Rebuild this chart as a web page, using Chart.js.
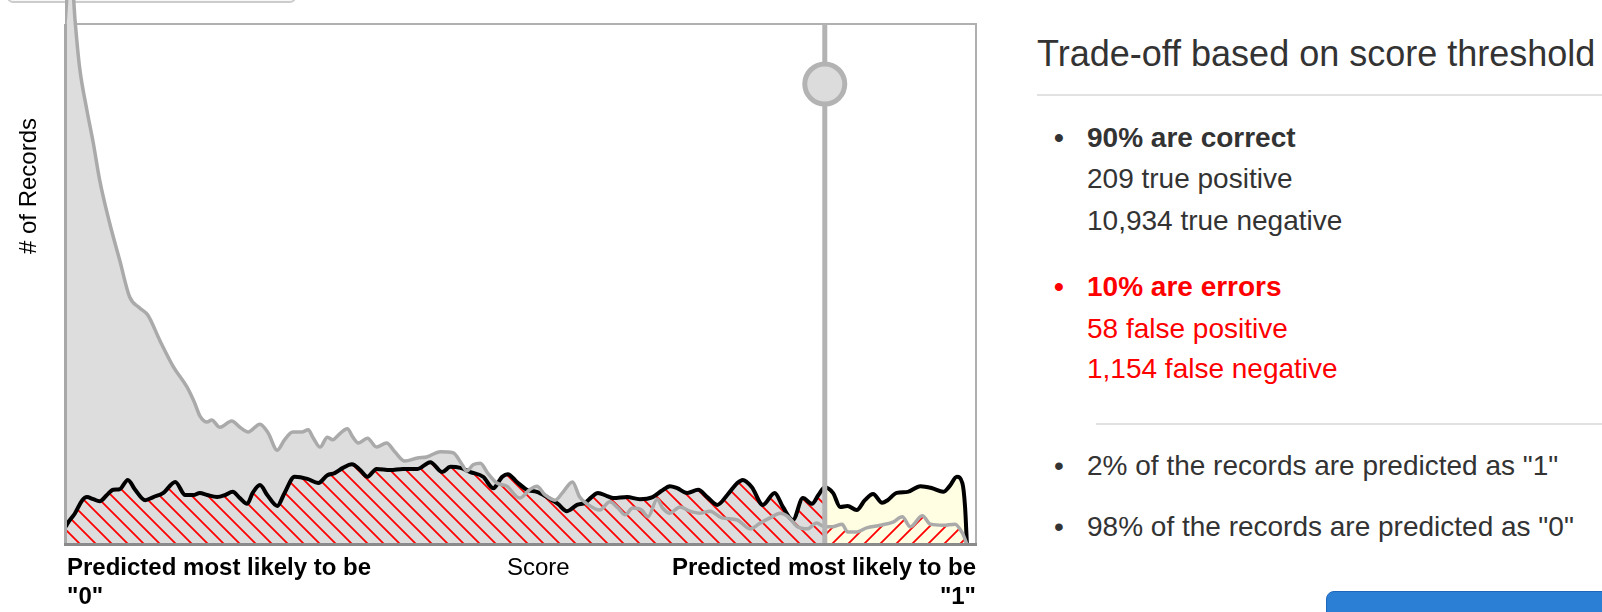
<!DOCTYPE html>
<html>
<head>
<meta charset="utf-8">
<script src="https://cdn.jsdelivr.net/npm/chart.js@4.4.1/dist/chart.umd.min.js"></script>
<style>
  html, body { margin: 0; padding: 0; background: #fff; }
  body { width: 1602px; height: 612px; position: relative; overflow: hidden; font-family: "Liberation Sans", Arial, sans-serif; }
  #topbox { position: absolute; left: 7px; top: -30px; width: 285px; height: 29px; border: 2px solid #ccc; border-radius: 6px; background: #f8f8f8; }
  #c { position: absolute; left: 0; top: 0; }
  .lbl { position: absolute; font-size: 24px; line-height: 29px; color: #000; white-space: nowrap; }
  .b { font-weight: bold; }
  #ytitle { position: absolute; left: -72px; top: 174px; width: 200px; height: 24px; line-height: 24px; font-size: 24px; text-align: center; transform: rotate(-90deg); color: #000; }
  .ln { position: absolute; left: 1087px; font-size: 28px; line-height: 40px; color: #333; white-space: nowrap; }
  .ln .bul { position: absolute; left: -33px; }
  .red { color: #ff0000; }
  #title { position: absolute; left: 1037px; top: 34px; font-size: 36px; line-height: 40px; color: #333; white-space: nowrap; }
  .rule { position: absolute; height: 2px; background: #e2e2e2; right: 0; }
  #btn { position: absolute; left: 1326px; top: 591px; width: 320px; height: 60px; background: #2b7fd5; border: 1px solid #1e67bb; border-radius: 8px; }
</style>
</head>
<body>
<div id="topbox"></div>
<canvas id="c" width="1000" height="612"></canvas>
<div id="ytitle"># of Records</div>
<div class="lbl b" style="left:67px;top:552px;">Predicted most likely to be<br>"0"</div>
<div class="lbl" style="left:507px;top:552px;">Score</div>
<div class="lbl b" style="left:660px;width:316px;text-align:right;top:552px;">Predicted most likely to be<br>"1"</div>

<div id="title">Trade-off based on score threshold</div>
<div class="rule" style="left:1037px;top:94px;"></div>
<div class="ln b" style="top:118px;"><span class="bul">•</span>90% are correct</div>
<div class="ln" style="top:159px;">209 true positive</div>
<div class="ln" style="top:201px;">10,934 true negative</div>
<div class="ln b red" style="top:267px;"><span class="bul">•</span>10% are errors</div>
<div class="ln red" style="top:309px;">58 false positive</div>
<div class="ln red" style="top:349px;">1,154 false negative</div>
<div class="rule" style="left:1096px;top:423px;"></div>
<div class="ln" style="top:446px;"><span class="bul">•</span>2% of the records are predicted as "1"</div>
<div class="ln" style="top:507px;"><span class="bul">•</span>98% of the records are predicted as "0"</div>
<div id="btn"></div>

<script>
// score distribution (score 0..1, height in % of frame)
const grayScores = [0, 0.006, 0.011, 0.016, 0.024, 0.031, 0.038, 0.049, 0.060, 0.071,
  0.082, 0.091, 0.104, 0.119, 0.134, 0.142, 0.148, 0.156, 0.161, 0.170,
  0.183, 0.192, 0.201, 0.214, 0.223, 0.233, 0.241, 0.250, 0.260, 0.267,
  0.272, 0.280, 0.288, 0.294, 0.300, 0.310, 0.316, 0.322, 0.332, 0.342,
  0.353, 0.362, 0.373, 0.387, 0.397, 0.412, 0.426, 0.436, 0.441, 0.448,
  0.456, 0.464, 0.474, 0.485, 0.499, 0.510, 0.518, 0.527, 0.538, 0.546,
  0.557, 0.565, 0.573, 0.587, 0.598, 0.607, 0.615, 0.623, 0.633, 0.640,
  0.650, 0.656, 0.664, 0.675, 0.686, 0.697, 0.708, 0.721, 0.738, 0.752,
  0.763, 0.774, 0.785, 0.794, 0.804, 0.815, 0.825, 0.834, 0.843, 0.853,
  0.859, 0.869, 0.880, 0.895, 0.909, 0.919, 0.928, 0.941, 0.950, 0.964,
  0.977, 0.985, 0.990];
const grayCounts = [100.0, 112.3, 100.8, 91.7, 83.5, 77.2, 70.1, 61.8, 54.7, 47.6,
  45.5, 44.1, 39.3, 34.2, 30.3, 27.4, 24.8, 23.6, 24.0, 22.6,
  23.8, 22.6, 21.7, 23.2, 21.5, 18.2, 20.2, 21.7, 21.7, 22.1,
  20.7, 18.8, 20.7, 20.2, 21.1, 22.3, 20.7, 19.6, 20.5, 18.8,
  19.6, 17.9, 16.1, 16.7, 16.9, 17.9, 17.7, 15.4, 14.2, 15.4,
  15.7, 13.8, 11.9, 11.3, 9.0, 10.6, 11.3, 9.6, 8.6, 10.0,
  12.1, 9.2, 7.9, 6.7, 8.3, 7.1, 5.8, 7.1, 6.7, 5.4,
  8.8, 7.1, 6.1, 7.3, 6.5, 6.1, 6.5, 5.2, 4.8, 3.1,
  4.2, 5.2, 6.1, 5.4, 3.5, 3.1, 4.2, 3.5, 3.5, 4.0,
  2.5, 2.5, 3.3, 3.8, 4.4, 5.4, 3.5, 5.6, 4.0, 3.8,
  4.0, 2.3, 0.2];

const blackScores = [0.001, 0.003, 0.011, 0.019, 0.024, 0.031, 0.038, 0.046, 0.053, 0.060,
  0.069, 0.077, 0.088, 0.097, 0.108, 0.121, 0.132, 0.141, 0.148, 0.156,
  0.167, 0.176, 0.184, 0.192, 0.200, 0.206, 0.214, 0.222, 0.233, 0.241,
  0.252, 0.266, 0.278, 0.288, 0.296, 0.305, 0.315, 0.324, 0.332, 0.342,
  0.357, 0.371, 0.387, 0.401, 0.414, 0.423, 0.434, 0.445, 0.459, 0.470,
  0.480, 0.486, 0.496, 0.507, 0.518, 0.529, 0.541, 0.551, 0.562, 0.571,
  0.578, 0.585, 0.595, 0.602, 0.617, 0.631, 0.645, 0.655, 0.664, 0.672,
  0.683, 0.695, 0.705, 0.716, 0.727, 0.738, 0.744, 0.754, 0.766, 0.779,
  0.788, 0.799, 0.810, 0.820, 0.827, 0.834, 0.843, 0.851, 0.859, 0.869,
  0.878, 0.887, 0.897, 0.903, 0.913, 0.925, 0.939, 0.952, 0.964, 0.971,
  0.979, 0.985, 0.988, 0.990];
const blackCounts = [3.6, 4.2, 6.1, 8.6, 9.2, 8.8, 8.4, 9.6, 10.6, 10.7,
  12.5, 10.6, 8.6, 9.2, 10.0, 12.1, 9.6, 9.6, 10.0, 9.6,
  9.2, 9.6, 10.2, 9.0, 7.9, 10.0, 11.5, 9.6, 7.5, 10.0,
  13.1, 12.7, 11.9, 13.4, 13.8, 14.8, 15.5, 14.4, 13.1, 14.6,
  14.4, 14.6, 14.6, 15.9, 14.0, 15.0, 14.8, 14.0, 13.1, 10.9,
  13.1, 13.6, 12.1, 10.6, 10.2, 9.2, 7.9, 6.5, 7.7, 8.1,
  9.2, 10.0, 9.4, 9.0, 9.2, 8.8, 9.2, 10.4, 11.3, 10.9,
  10.0, 10.6, 9.2, 7.7, 9.6, 11.9, 12.5, 11.1, 7.7, 10.0,
  7.3, 4.8, 9.0, 7.9, 9.6, 11.1, 10.0, 7.3, 7.5, 6.7,
  8.6, 9.8, 8.1, 8.6, 10.0, 10.2, 11.3, 10.9, 10.2, 11.3,
  13.1, 11.9, 7.3, 0.2];

const threshold = 0.834;
const frameTop = 100;

const canvas = document.getElementById('c');
const ctx = canvas.getContext('2d');

// red diagonal hatching
function makeHatch(down) {
  const s = 16;
  const tile = document.createElement('canvas');
  tile.width = s; tile.height = s;
  const g = tile.getContext('2d');
  g.strokeStyle = '#ff0000';
  g.lineWidth = 1.8;
  g.beginPath();
  if (down) {
    g.moveTo(-2, -2); g.lineTo(s + 2, s + 2);
    g.moveTo(s - 2, -2); g.lineTo(s + 2, 2);
    g.moveTo(-2, s - 2); g.lineTo(2, s + 2);
  } else {
    g.moveTo(-2, s + 2); g.lineTo(s + 2, -2);
    g.moveTo(-2, 2); g.lineTo(2, -2);
    g.moveTo(s - 2, s + 2); g.lineTo(s + 2, s - 2);
  }
  g.stroke();
  return ctx.createPattern(tile, 'repeat');
}
const hatchLeft = makeHatch(true);
const hatchRight = makeHatch(false);

function points(xs, ys) {
  return xs.map((x, i) => ({ x: x, y: ys[i] }));
}
const grayPts = points(grayScores, grayCounts);
const blackPts = points(blackScores, blackCounts);
const leftOf = pts => pts.filter(p => p.x <= threshold);
const rightOf = pts => pts.filter(p => p.x >= threshold);

function area(data, bg) {
  return { data: data, fill: 'origin', backgroundColor: bg, borderWidth: 0, borderColor: 'rgba(0,0,0,0)' };
}

const framePlugin = {
  id: 'frame',
  beforeDatasetsDraw(chart) {
    const a = chart.chartArea;
    const c = chart.ctx;
    const top = chart.scales.y.getPixelForValue(frameTop);
    c.save();
    c.strokeStyle = '#b0b0b0';
    c.lineWidth = 2;
    c.beginPath();
    c.moveTo(a.left, top);
    c.lineTo(a.right, top);
    c.lineTo(a.right, a.bottom);
    c.stroke();
    c.restore();
  },
  afterDatasetsDraw(chart) {
    const a = chart.chartArea;
    const c = chart.ctx;
    const top = chart.scales.y.getPixelForValue(frameTop);
    const tx = chart.scales.x.getPixelForValue(threshold);
    c.save();
    // left axis
    c.strokeStyle = '#a8a8a8';
    c.lineWidth = 3;
    c.beginPath();
    c.moveTo(a.left + 0.5, top);
    c.lineTo(a.left + 0.5, a.bottom);
    c.stroke();
    // bottom axis
    c.strokeStyle = '#8a8a8a';
    c.beginPath();
    c.moveTo(a.left - 1, a.bottom - 0.5);
    c.lineTo(a.right + 1, a.bottom - 0.5);
    c.stroke();
    // threshold bar and knob
    c.strokeStyle = '#b3b3b3';
    c.lineWidth = 5;
    c.beginPath();
    c.moveTo(tx, top);
    c.lineTo(tx, a.bottom - 2);
    c.stroke();
    c.beginPath();
    c.arc(tx, top + 60, 20, 0, Math.PI * 2);
    c.fillStyle = '#dcdcdc';
    c.fill();
    c.lineWidth = 5;
    c.stroke();
    c.restore();
  }
};

new Chart(ctx, {
  type: 'line',
  data: {
    datasets: [
      { data: grayPts, fill: false, borderColor: '#aaaaaa', borderWidth: 3.5 },
      { data: blackPts, fill: false, borderColor: '#000000', borderWidth: 4 },
      area(rightOf(grayPts), hatchRight),
      area(leftOf(blackPts), hatchLeft),
      area(rightOf(blackPts), '#fffde2'),
      area(rightOf(grayPts), '#fffde2'),
      area(leftOf(blackPts), '#dddddd'),
      area(leftOf(grayPts), '#dddddd')
    ]
  },
  options: {
    responsive: false,
    animation: false,
    events: [],
    layout: { padding: { left: 65, right: 24, top: 0, bottom: 67 } },
    elements: {
      point: { radius: 0 },
      line: { cubicInterpolationMode: 'monotone', borderJoinStyle: 'round', borderCapStyle: 'round' }
    },
    scales: {
      x: { type: 'linear', min: 0, max: 1, display: false },
      y: { min: 0, max: 104.61, display: false }
    },
    plugins: {
      legend: { display: false },
      tooltip: { enabled: false }
    }
  },
  plugins: [framePlugin]
});
</script>
</body>
</html>
